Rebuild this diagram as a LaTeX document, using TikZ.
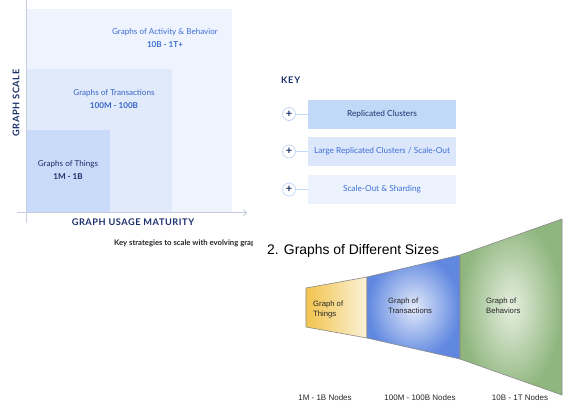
\documentclass[tikz,border=0pt]{standalone}
\usepackage{fontspec}
\setmainfont{Lato}
\newfontfamily\arialfont{Liberation Sans}
\usetikzlibrary{arrows.meta}
\definecolor{sqA}{HTML}{EEF3FD}
\definecolor{sqB}{HTML}{E0EAFB}
\definecolor{sqC}{HTML}{C9DBF8}
\definecolor{txtblue}{HTML}{3D6FD8}
\definecolor{navy}{HTML}{1B2F6B}
\definecolor{axisc}{HTML}{C5CEDB}
\definecolor{kA}{HTML}{C2D8F7}
\definecolor{kB}{HTML}{DCE7FB}
\definecolor{kC}{HTML}{EDF3FD}
\definecolor{edgec}{HTML}{8A8A8A}
\definecolor{yelL}{HTML}{F2C44E}
\definecolor{yelR}{HTML}{FBF2D8}
\definecolor{bluI}{HTML}{E3EAFA}
\definecolor{bluO}{HTML}{6088E0}
\definecolor{grnI}{HTML}{E6EFE0}
\definecolor{grnO}{HTML}{8FB67E}
\tikzset{
  lbl/.style={font=\fontsize{8.1}{9}\selectfont, text=txtblue, inner sep=0pt},
  lblb/.style={font=\fontsize{8.1}{9}\selectfont\bfseries, text=txtblue, inner sep=0pt},
  axistitle/.style={font=\fontsize{9.2}{10}\selectfont\bfseries, text=navy, inner sep=0pt},
  keybox/.style={draw=none, minimum width=148pt, minimum height=29pt, inner sep=0pt, font=\fontsize{8.3}{9}\selectfont},
  pluscirc/.style={circle, draw=kA, fill=white, line width=0.8pt, minimum size=13pt, inner sep=0pt, text=navy, font=\fontsize{11}{11}\selectfont\bfseries},
  keyline/.style={draw=kA, line width=0.8pt},
  seg/.style={draw=edgec, line width=0.6pt},
  ftxt/.style={font=\arialfont\fontsize{7.7}{9.5}\selectfont, align=left, inner sep=0pt, text=black!85},
  nodelbl/.style={font=\arialfont\fontsize{8}{9}\selectfont, inner sep=0pt, text=black!85}
}
\begin{document}
\begin{tikzpicture}[x=1pt,y=-1pt]
\useasboundingbox (0,0) rectangle (569,408);
\fill[white] (0,0) rectangle (569,408);
% squares
\fill[sqA] (27,9) rectangle (232,212);
\fill[sqB] (27,69) rectangle (172,212);
\fill[sqC] (27,130) rectangle (110,212);
% axes
\coordinate (ytop) at (26.5,0);
\coordinate (ybot) at (26.5,223);
\coordinate (xl) at (17,212.5);
\coordinate (xr) at (247,212.5);
\draw[axisc, line width=0.8pt] (ytop) -- (ybot);
\draw[axisc, line width=0.8pt, -{Straight Barb[length=3pt,width=6pt]}] (xl) -- (xr);
% texts
\node[lbl] (t1) at (165,32) {Graphs of Activity \& Behavior};
\node[lblb] (t1b) at (165,45) {10B - 1T+};
\node[lbl, text=txtblue!85!navy] (t2) at (114,93) {Graphs of Transactions};
\node[lblb, text=txtblue!85!navy] (t2b) at (114,106) {100M - 100B};
\node[lbl, text=navy] (t3) at (68,164) {Graphs of Things};
\node[lblb, text=navy] (t3b) at (68,177) {1M - 1B};
\node[axistitle, rotate=90] (ys) at (16,103) {\addfontfeature{LetterSpace=6}GRAPH SCALE};
\node[axistitle] (xs) at (133,222.5) {\addfontfeature{LetterSpace=6}GRAPH USAGE MATURITY};
\begin{scope}
\clip (100,230) rectangle (252,255);
\node[anchor=west, inner sep=0pt, font=\fontsize{7.7}{8}\selectfont\bfseries, text=black!85] (cap) at (114,243) {Key strategies to scale with evolving graphs};
\end{scope}
% key
\node[axistitle, anchor=west] (key) at (281,80) {\addfontfeature{LetterSpace=8}KEY};
\node[keybox, fill=kA, text=navy] (k1) at (382,114) {Replicated Clusters};
\node[keybox, fill=kB, text=txtblue] (k2) at (382,151.5) {Large Replicated Clusters / Scale-Out};
\node[keybox, fill=kC, text=txtblue] (k3) at (382,189.5) {Scale-Out \& Sharding};
\node[pluscirc] (p1) at (289,114) {+};
\node[pluscirc] (p2) at (289,151.5) {+};
\node[pluscirc] (p3) at (289,189.5) {+};
\draw[keyline] (p1) -- (k1.west);
\draw[keyline] (p2) -- (k2.west);
\draw[keyline] (p3) -- (k3.west);
% funnel
\node[anchor=west, inner sep=0pt, font=\arialfont\fontsize{13.9}{15}\selectfont] (title) at (267,251) {2. Graphs of Different Sizes};
\shade[left color=yelL, right color=yelR] (306,288) -- (367,277) -- (367,338) -- (306,327) -- cycle;
\draw[seg] (306,288) -- (367,277) -- (367,338) -- (306,327) -- cycle;
\shade[inner color=bluI, outer color=bluO] (367,277) -- (460,255) -- (460,359) -- (367,338) -- cycle;
\draw[seg] (367,277) -- (460,255) -- (460,359) -- (367,338) -- cycle;
\shade[inner color=grnI, outer color=grnO] (460,255) -- (562,219) -- (562,395) -- (460,359) -- cycle;
\draw[seg] (460,255) -- (562,219) -- (562,395) -- (460,359) -- cycle;
\node[ftxt, anchor=north west] (f1) at (313,301) {Graph of\\Things};
\node[ftxt, anchor=north west] (f2) at (388,298) {Graph of\\Transactions};
\node[ftxt, anchor=north west] (f3) at (486,298) {Graph of\\Behaviors};
\node[nodelbl] (n1) at (325,398) {1M - 1B Nodes};
\node[nodelbl] (n2) at (420,398) {100M - 100B Nodes};
\node[nodelbl] (n3) at (520,398) {10B - 1T Nodes};
\end{tikzpicture}
\end{document}
